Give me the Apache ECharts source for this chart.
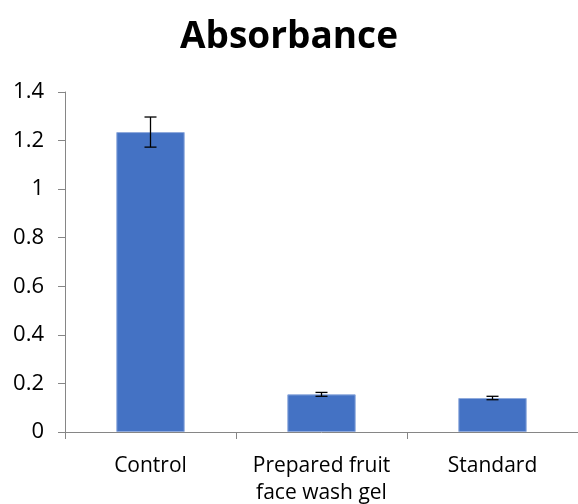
<!DOCTYPE html>
<html>
<head>
<meta charset="utf-8">
<script src="https://cdn.jsdelivr.net/npm/echarts@6/dist/echarts.min.js"></script>
<style>
html,body{margin:0;padding:0;background:#fff;}
#chart{width:578px;height:504px;}
</style>
</head>
<body>
<div id="chart"></div>
<script>
var categories = ['Control', 'Prepared fruit\nface wash gel', 'Standard'];
var absorbance = [1.235, 0.155, 0.140];
var errors = [0.062, 0.008, 0.007];
var yTicks = [0, 0.2, 0.4, 0.6, 0.8, 1, 1.2, 1.4];

var errData = [];
for (var i = 0; i < categories.length; i++) {
    errData.push([i, absorbance[i] - errors[i], absorbance[i] + errors[i]]);
}

var myChart = echarts.init(document.getElementById('chart'));
var font = '"Open Sans", "Liberation Sans", sans-serif';
var option = {
    animation: false,
    title: {
        text: 'Absorbance',
        left: 'center',
        top: 14,
        textStyle: { fontFamily: font, fontSize: 37, fontWeight: 'bold', color: '#000' }
    },
    grid: { left: 65, right: 0, top: 92, bottom: 72, containLabel: false, outerBoundsMode: 'none' },
    xAxis: {
        type: 'category',
        data: categories,
        axisLine: { lineStyle: { color: '#868686', width: 1 } },
        axisTick: { show: true, length: 7, lineStyle: { color: '#868686' } },
        axisLabel: { fontFamily: font, fontSize: 21, color: '#000', margin: 21, lineHeight: 27, interval: 0 }
    },
    yAxis: {
        type: 'value',
        min: 0,
        max: 1.4,
        interval: 0.2,
        axisLine: { show: true, lineStyle: { color: '#868686', width: 1 } },
        axisTick: { show: true, length: 7, lineStyle: { color: '#868686' } },
        splitLine: { show: false },
        axisLabel: {
            fontFamily: font, fontSize: 22, color: '#000', margin: 21,
            formatter: function (v) {
                var t = yTicks.filter(function (x) { return Math.abs(x - v) < 1e-6; });
                return t.length ? String(t[0]) : '';
            }
        }
    },
    series: [
        {
            type: 'bar',
            data: absorbance,
            barCategoryGap: '60%',
            itemStyle: { color: '#4472C4', borderColor: '#8FAADC', borderWidth: 1 }
        },
        {
            type: 'custom',
            data: errData,
            z: 10,
            renderItem: function (params, api) {
                var x = api.value(0);
                var lo = api.coord([x, api.value(1)]);
                var hi = api.coord([x, api.value(2)]);
                var hw = 6;
                var style = { stroke: '#000', lineWidth: 1.3 };
                return {
                    type: 'group',
                    children: [
                        { type: 'line', shape: { x1: hi[0], y1: hi[1], x2: lo[0], y2: lo[1] }, style: style },
                        { type: 'line', shape: { x1: hi[0] - hw, y1: hi[1], x2: hi[0] + hw, y2: hi[1] }, style: style },
                        { type: 'line', shape: { x1: lo[0] - hw, y1: lo[1], x2: lo[0] + hw, y2: lo[1] }, style: style }
                    ]
                };
            }
        }
    ]
};
myChart.setOption(option);
</script>
</body>
</html>
